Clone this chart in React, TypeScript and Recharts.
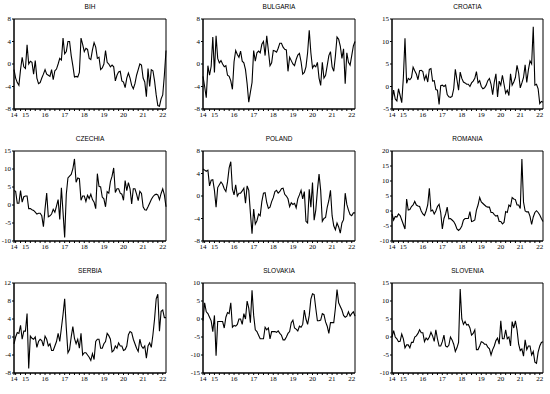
import { Line, LineChart, ReferenceArea, XAxis, YAxis } from "recharts";

// monthly observations, 2014M06 .. 2022M03 (94 points)
const BIH = [
  -1, -2.5, -3.3, -3.8, -1, 1.2, -0.5,
  -0.8, 3.4, 0, 0.5, 0.3, -1.8, 0.6, -2.5, -3.5, -3.3, -2.5, -1.8,
  -1, -1.8, -2, -2.2, -1, -2.8, -1.2, -0.9, 0, 1, 0.7, 4.6,
  1.8, 2.2, 4, 4, 1.5, -0.3, -2.3, -2.2, -2.3, -1.5, 4.6, 3.5,
  2.2, 2.8, 2.6, 1, 0.8, 2.5, 3.8, 3, 1, 1.2, -1, -0.7,
  0, 2.4, 0.3, 0, -0.5, -0.2, -0.5, -3, -2, -1.4, -1.3, -3,
  -3.2, -4.2, -2.5, -1.6, -2.5, -3.8, -4.4, -3.5, -2, -1, 0, -0.2,
  -2.5, -3.2, -5.8, -0.8, -4, -1, -1.2, -3, -5.5, -7.4, -7.5, -6.2,
  -5.5, -2, 2.4,
];

const BULGARIA = [
  -2.2, -4, -6, -0.3, -2, -0.4, 4.8,
  -1.5, 5, 1, 0.2, 0.6, 0, -0.5, -0.3, -2, -2.2, -3, -4.5,
  0.4, 2.4, 1.7, 1.2, 2.3, 0.5, 0.2, -1, -3.5, -6.8, -5, -3.3,
  2.4, 0.5, 2, 2.3, 2, 3.5, 4, 1.5, 5, 2.4, -0.3, 0.2,
  2.4, 2.3, 2.1, 2.8, 3.7, 3.7, 3, 2.6, 2.5, -1.3, 1.2, 0.6,
  0, -0.3, 0.8, 1.6, 1.9, 0.4, -1.8, -1.5, -0.5, 2, 6, 2,
  -0.7, -0.2, -0.5, 0.3, -2.5, -3.8, 0.3, -2.5, -2, -0.3, 1.5, 2.2,
  -0.5, -1.3, 1.4, 4.8, 4.4, 3.2, 1, 2.7, -3.5, 2, 0.3, -0.2,
  1.5, 3.2, 4,
];

const CROATIA = [
  -3, -0.8, -2.8, -3.2, -0.5, -2, -3.6,
  2, 10.7, 0.7, 1.8, 1.5, 2, 4.3, 3.5, 2.8, 1.5, 3.5, 3.6,
  3.3, 1.5, 2.5, 1, 3.8, 4, 1.2, 1.3, -0.7, -0.8, -4, 0.2,
  0.3, 0, 0.3, -1.8, -2.3, -2.4, -2.2, -0.5, 3.8, 1.5, -0.8, 3.2,
  1.8, 1, 0.8, 0.5, 0.5, 0, 0.8, 1.2, 1.8, 3.3, 0.8, 1.3,
  0, -0.5, -0.3, 0.3, 1.3, 1.8, 0.5, -1.8, 1, 2.8, -2.3, 1.2,
  0.3, 2.5, 0.5, -1.5, -0.8, -2, 2.8, 0.3, 1, 2, 4.7, 3,
  -0.3, 0.8, 2, 4.8, 0.9, 3.7, 5.7, 5, 13.3, 0.3, 0.5, -0.5,
  -3.8, -3.3, -3.5,
];

const CZECHIA = [
  4, 3.8, 0.5, 0.5, 4, 0.8, 2.3,
  2.5, 2.5, -1, -1, -1.3, -1.5, -2, -2.5, -2.3, -2.3, -3, -6,
  -1, 3.3, -3.3, -3, -2.5, -1.2, -2, -0.3, 1.5, -4, 4.8, -2,
  -9, 3, 7.5, 8, 8.5, 10, 12.8, 6.3, 7.5, 7.3, 1.3, 2.5,
  2.5, 1, 2.7, 1.8, 3, 1.5, 0.8, -1, 8.7, 5.2, 5, 2.2,
  1.7, -0.5, 3.7, 3.3, 6.5, 8, 10.3, 3.5, 4.5, 4.5, 3.3, 3,
  1.3, 6.8, 4, 6.2, 4.5, 0.3, 4.5, 4.5, 3, 1.2, 3.8, 3.2,
  -0.5, -1.3, -1.4, -0.5, 0.5, 1.5, 2.3, 2.8, 3, 2.8, 1.5, 3.2,
  4.5, 2.8, -0.5,
];

const POLAND = [
  4.8, 4.6, 4.4, 4.6, 1.8, 2.8, 2.9,
  1, -2, 1.5, 2, 2.5, 2.1, 1.3, 0.8, 2.5, 5, 6.1, 1.2,
  0.2, 2, 0, 0.5, 0.5, 0.9, 1.4, -1.3, 1.8, 1, -3, -6.7,
  -2.3, -5, -4.4, -3.2, -3.5, -1, 0.5, 0.6, -1.2, -2.2, -2, -1,
  -0.3, 0.8, 1, 0.5, 0.8, 1.3, 1.4, 0.3, 0, -0.5, -1.9, -1.2,
  -1.5, -1.3, -2.1, -0.5, 0.2, 1, -0.5, 0.8, -4.5, -4.8, 1.2, -2,
  2.4, -4.3, -2.5, 1, 3.9, 1, -4.5, -4, -3.8, -2, -0.8, 1,
  -3.5, -5.3, -6, -4.8, -5.5, -6.6, -4.8, -4.2, 0.5, -1.5, -2.5, -3.3,
  -3.5, -3, -3,
];

const ROMANIA = [
  -1, -3, -1.8, -2, -1, -1.5, -3,
  -4.5, -6, 4, 0.3, 0.5, 1.5, 2, 3.2, 2, 1.7, 1.5, 0,
  -1, -1.5, 0, 2, 7.6, 0, 0.3, -1, 0, 1.5, 2.2, -0.5,
  -6, -2.5, -1, 1.3, -2.6, -2.5, -3, -3.5, -4.5, -6, -6.5, -6,
  -5, -3, -2.5, -2.5, -2.5, -0.2, -3.5, -3.3, -3, 0.3, 2, 4.5,
  3, 2.5, 2, 1.5, 1.3, 1.3, -0.5, -0.5, -1.2, -1.7, -1.5, -3.5,
  -3.5, -4.3, -3.8, -0.2, -0.5, 2, 1.5, 4.5, 4, 3.8, 2, 2,
  0.8, 17.3, 3, 0, -0.3, -0.3, -1.8, -4.5, -2, -0.5, 0.1, -0.5,
  -1.3, -2.5, -3.5,
];

const SERBIA = [
  -1.5, 0, 1, 0.8, 2.6, -0.5, 1.3,
  1.3, 5.2, -7, 0.2, -0.3, -0.5, 0, -2.3, -1, -0.5, -0.8, -2,
  0.2, -0.5, -2, -1.5, -3, -3, -2, -1, 0.8, -1, 2, 5,
  8.5, 2, -3.5, -2.8, 0, 2.3, -0.3, -1.5, -0.5, -2.5, 0.8, -4,
  -3.5, -3.5, -4, -4.5, -5.2, -3.7, -5, -1, -0.5, -0.5, -2.5, -2.5,
  -1.5, -1, 0.8, 0.3, -0.5, -3.3, -3, -2, -2.5, -1.3, -2, -2,
  -3, -2.8, -2, 0.5, 1.2, 1, -0.5, -1.5, -2.5, -3.2, -0.5, -2,
  -2.5, -2, -4.7, -2, -1.3, -2.3, 0.5, 4, 8.5, 9.5, 1.3, 5.7,
  6, 4.3, 4.3,
];

const SLOVAKIA = [
  -0.5, 4.5, 2, 1.5, 0.5, -0.5, -3.5,
  1, -10.2, -0.7, -0.7, -0.7, -0.7, -2.5, 0.5, 1.8, 1.5, 4.5, -2.3,
  -1.8, -2, -1.5, 0, 0, -1.5, 1.5, 0, 5, 3, -1, 8,
  1, -3, -3.5, -4.5, -5.5, -5.5, -5.5, -2.3, -3, -2.5, -5.5, -3.5,
  -3.5, -3.5, -3.7, -3.3, -4, -4.5, -5.8, -5.8, -5, -4, -3.5, -1,
  -0.3, -2.5, -2.8, -3.3, -2, -2.3, -1.5, 2.5, 0, -1.5, 1, 5.5,
  7, 6.8, 3, -0.5, -0.5, -0.3, 1.5, 1.2, -0.8, -2, -4, -1,
  -1, -1, 3, 8.2, 4.5, 3.5, 2.5, 1, 0.5, 0.8, 2, 0.8,
  1.5, 2, 0.8,
];

const SLOVENIA = [
  0, 1.8, 0, -0.5, -1.3, -1.2, 0.8,
  -0.5, -3, -2.2, -2.2, -3, -1.5, -1.5, 0, 0.3, 1, 2, 1.2,
  1.2, -1.3, -0.3, -0.8, 0, 1.3, 0.3, -1.2, 2, -0.5, -2.5, -2.5,
  -1.3, 0.5, -2.5, -2.8, -2.3, 0, -0.8, -2, -4, -3, -1.5, 13.3,
  5, 3.5, 4.3, 3.3, 3.5, 2.5, 0.5, 1, 2, -3.5, -3.5, -2.5,
  -1.3, -1.5, -2, -2, -2.8, -3.3, -5, -3.5, -2.5, -1, -0.3, -2,
  4.5, -0.5, -0.5, 2, -0.5, 0, -2.5, 4.3, 2.5, 4.5, 2, -2,
  -3.8, -3.3, -5.3, -0.8, -3.5, -2.5, -2.5, -5, -4, -7, -7.3, -4.2,
  -2.5, -1.5, -1.3,
];

// x axis: month index 0 = 2014M06; year labels sit on January of each year
const YEAR_LABELS: Record<number, string> = {
  0: "14", 7: "15", 19: "16", 31: "17", 43: "18", 55: "19", 67: "20", 79: "21", 91: "22",
};
const X_TICKS = [0];
for (let q = 1; q <= 91; q += 3) X_TICKS.push(q);

const PANELS = [
  { title: "BIH", values: BIH, yTicks: [-8, -4, 0, 4, 8] },
  { title: "BULGARIA", values: BULGARIA, yTicks: [-8, -4, 0, 4, 8] },
  { title: "CROATIA", values: CROATIA, yTicks: [-5, 0, 5, 10, 15] },
  { title: "CZECHIA", values: CZECHIA, yTicks: [-10, -5, 0, 5, 10, 15] },
  { title: "POLAND", values: POLAND, yTicks: [-8, -4, 0, 4, 8] },
  { title: "ROMANIA", values: ROMANIA, yTicks: [-10, -5, 0, 5, 10, 15, 20] },
  { title: "SERBIA", values: SERBIA, yTicks: [-8, -4, 0, 4, 8, 12] },
  { title: "SLOVAKIA", values: SLOVAKIA, yTicks: [-15, -10, -5, 0, 5, 10] },
  { title: "SLOVENIA", values: SLOVENIA, yTicks: [-10, -5, 0, 5, 10, 15] },
];

const COLS = [
  { x: 0, w: 183, left: 14, right: 17 },
  { x: 183, w: 183, left: 20, right: 11 },
  { x: 366, w: 184, left: 26, right: 7 },
];
const ROWS = [0, 132, 264];
const CELL_H = 132;
const TOP = 19;
const BOTTOM = 23;

const serif = "'Liberation Serif', 'DejaVu Serif', serif";
const sans = "'Liberation Sans', Arial, sans-serif";

type PanelProps = {
  title: string;
  values: number[];
  yTicks: number[];
  col: (typeof COLS)[number];
  top: number;
};

function Panel({ title, values, yTicks, col, top }: PanelProps) {
  const data = values.map((v, i) => ({ i, v }));
  const yMin = yTicks[0];
  const yMax = yTicks[yTicks.length - 1];
  const plotW = col.w - col.left - col.right;

  return (
    <div style={{ position: "absolute", left: col.x, top, width: col.w, height: CELL_H }}>
      <div
        style={{
          position: "absolute",
          left: col.left,
          width: plotW,
          top: 3,
          textAlign: "center",
          fontFamily: sans,
          fontSize: 6.5,
          lineHeight: "8px",
          color: "#000",
        }}
      >
        {title}
      </div>
      <LineChart
        width={col.w}
        height={CELL_H}
        data={data}
        margin={{ top: TOP, right: col.right, bottom: 0, left: 0 }}
      >
        <XAxis
          dataKey="i"
          type="number"
          domain={[0, 93]}
          ticks={X_TICKS}
          interval={0}
          height={BOTTOM}
          tickSize={2}
          tickMargin={1}
          tickFormatter={(v) => YEAR_LABELS[Number(v)] ?? ""}
          tick={{ fontSize: 7, fontFamily: serif, fill: "#000" }}
          axisLine={{ stroke: "#000" }}
          tickLine={{ stroke: "#000" }}
        />
        <YAxis
          type="number"
          domain={[yMin, yMax]}
          ticks={yTicks}
          interval={0}
          width={col.left}
          tickSize={2}
          tickMargin={1}
          allowDataOverflow
          tick={{ fontSize: 7, fontFamily: serif, fill: "#000" }}
          axisLine={{ stroke: "#000" }}
          tickLine={{ stroke: "#000" }}
        />
        <ReferenceArea x1={0} x2={93} y1={yMin} y2={yMax} fill="none" stroke="#000" strokeWidth={1} />
        <Line
          type="linear"
          dataKey="v"
          stroke="#000"
          strokeWidth={1.1}
          dot={false}
          isAnimationActive={false}
        />
      </LineChart>
    </div>
  );
}

export default function App() {
  return (
    <div style={{ position: "absolute", left: 0, top: 0, width: 550, height: 394, background: "#fff" }}>
      {PANELS.map((p, k) => (
        <Panel
          key={p.title}
          title={p.title}
          values={p.values}
          yTicks={p.yTicks}
          col={COLS[k % 3]}
          top={ROWS[Math.floor(k / 3)]}
        />
      ))}
    </div>
  );
}
